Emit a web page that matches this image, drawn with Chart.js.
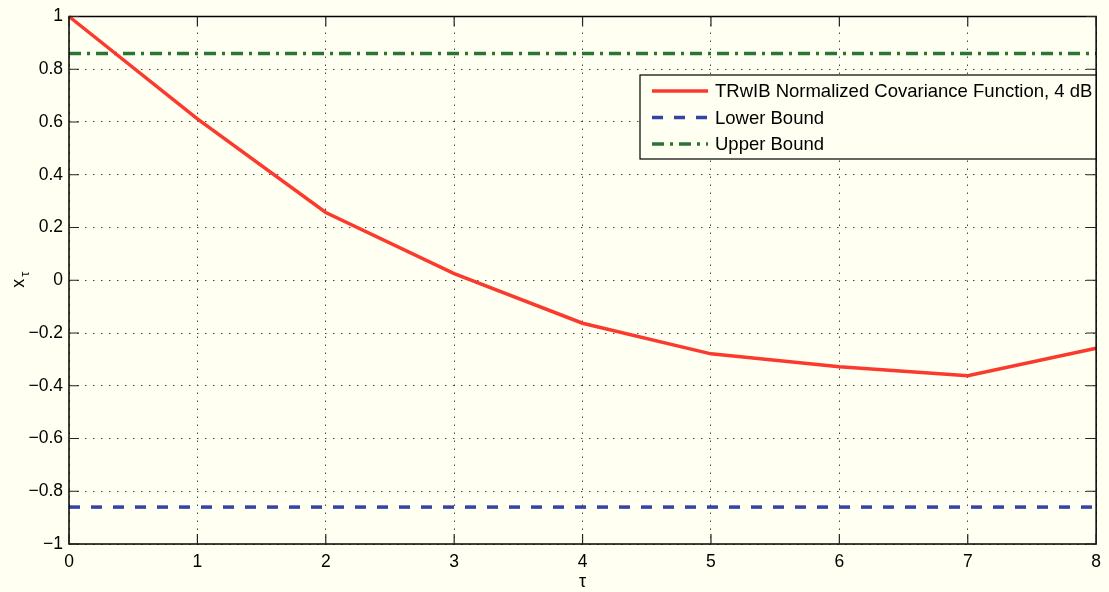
<!DOCTYPE html>
<html>
<head>
<meta charset="utf-8">
<script src="https://cdn.jsdelivr.net/npm/chart.js@4"></script>
<style>
  html, body { margin: 0; padding: 0; background: #fffff2; }
  #wrap { width: 1109px; height: 592px; }
</style>
</head>
<body>
<div id="wrap"><canvas id="cov" width="1109" height="592"></canvas></div>
<script>
// lags and normalized covariance values
const lags = [0, 1, 2, 3, 4, 5, 6, 7, 8];
const covariance = [1.0, 0.612, 0.257, 0.025, -0.163, -0.279, -0.328, -0.362, -0.258];
const lowerBound = -0.86;
const upperBound = 0.86;
const xTicks = [0, 1, 2, 3, 4, 5, 6, 7, 8];
const yTicks = [-1, -0.8, -0.6, -0.4, -0.2, 0, 0.2, 0.4, 0.6, 0.8, 1];
const seriesNames = ["TRwIB Normalized Covariance Function, 4 dB", "Lower Bound", "Upper Bound"];

const FONT = "'Liberation Sans', Arial, Helvetica, sans-serif";
const RED = "#fb3a2e", BLUE = "#3343a8", GREEN = "#2a7534";

const fmt = (v) => {
  const s = Math.abs(v) < 1e-9 ? "0" : (Number.isInteger(v) ? String(v) : v.toFixed(1));
  return s.replace("-", "\u2212");
};

// box, inward tick marks, axis titles and legend, MATLAB style
const frame = {
  id: "frame",
  afterDatasetsDraw(chart) {
    const { ctx, chartArea: a, scales: { x, y } } = chart;
    ctx.save();
    ctx.strokeStyle = "#000";
    ctx.lineWidth = 1.5;
    ctx.strokeRect(a.left, a.top, a.right - a.left, a.bottom - a.top);
    ctx.strokeStyle = "#222";
    ctx.lineWidth = 1.2;
    ctx.beginPath();
    xTicks.forEach((t) => {
      const px = x.getPixelForValue(t);
      ctx.moveTo(px, a.bottom); ctx.lineTo(px, a.bottom - 10);
      ctx.moveTo(px, a.top); ctx.lineTo(px, a.top + 10);
    });
    yTicks.forEach((t) => {
      const py = y.getPixelForValue(t);
      ctx.moveTo(a.left, py); ctx.lineTo(a.left + 10, py);
      ctx.moveTo(a.right, py); ctx.lineTo(a.right - 10, py);
    });
    ctx.stroke();

    // axis titles
    ctx.fillStyle = "#000";
    ctx.font = "18px " + FONT;
    ctx.textAlign = "center";
    ctx.textBaseline = "middle";
    ctx.fillText("\u03c4", (a.left + a.right) / 2, 582);
    ctx.save();
    ctx.translate(19, (a.top + a.bottom) / 2);
    ctx.rotate(-Math.PI / 2);
    ctx.fillText("x", -3, 0);
    ctx.font = "13px " + FONT;
    ctx.fillText("\u03c4", 6, 6);
    ctx.restore();

    // legend
    const lx = 640, ly = 75, lw = 456, lh = 84;
    ctx.fillStyle = "#fffff2";
    ctx.fillRect(lx, ly, lw, lh);
    ctx.strokeStyle = "#000";
    ctx.lineWidth = 1.2;
    ctx.strokeRect(lx, ly, lw, lh);
    chart.data.datasets.forEach((ds, i) => {
      const ry = ly + 16 + i * 26.5;
      ctx.beginPath();
      ctx.strokeStyle = ds.borderColor;
      ctx.lineWidth = ds.borderWidth;
      ctx.setLineDash(ds.borderDash || []);
      ctx.moveTo(652, ry); ctx.lineTo(708, ry);
      ctx.stroke();
      ctx.setLineDash([]);
      ctx.fillStyle = "#000";
      ctx.font = "18.5px " + FONT;
      ctx.textAlign = "left";
      ctx.fillText(ds.label, 715, ry + 1);
    });
    ctx.restore();
  }
};

const gridOpts = { color: "#444", lineWidth: 1, drawTicks: false };
const borderOpts = { display: false, dash: [1.5, 6.5] };

new Chart(document.getElementById("cov"), {
  type: "line",
  data: {
    datasets: [
      { label: seriesNames[0], data: lags.map((l, i) => ({ x: l, y: covariance[i] })),
        borderColor: RED, borderWidth: 3.5, pointRadius: 0, tension: 0, clip: false },
      { label: seriesNames[1], data: [{ x: lags[0], y: lowerBound }, { x: lags[lags.length - 1], y: lowerBound }],
        borderColor: BLUE, borderWidth: 3.5, borderDash: [11, 11], pointRadius: 0 },
      { label: seriesNames[2], data: [{ x: lags[0], y: upperBound }, { x: lags[lags.length - 1], y: upperBound }],
        borderColor: GREEN, borderWidth: 3.5, borderDash: [12, 6, 3, 6], pointRadius: 0 },
    ],
  },
  options: {
    responsive: false, animation: false,
    layout: { padding: { left: 0, right: 8, top: 15, bottom: 0 } },
    plugins: { legend: { display: false }, tooltip: { enabled: false } },
    scales: {
      x: {
        type: "linear", min: 0, max: 8,
        afterBuildTicks: (s) => { s.ticks = xTicks.map((v) => ({ value: v })); },
        afterFit: (s) => { s.height = 48; },
        border: borderOpts,
        grid: gridOpts,
        ticks: { color: "#000", font: { size: 17.5, family: FONT }, padding: 8, maxRotation: 0, callback: (v) => fmt(v) },
      },
      y: {
        type: "linear", min: -1, max: 1,
        afterBuildTicks: (s) => { s.ticks = yTicks.map((v) => ({ value: v })); },
        afterFit: (s) => { s.width = 69; },
        border: borderOpts,
        grid: gridOpts,
        ticks: { color: "#000", font: { size: 17.5, family: FONT }, padding: 6, callback: (v) => fmt(v) },
      },
    },
  },
  plugins: [frame],
});
</script>
</body>
</html>
